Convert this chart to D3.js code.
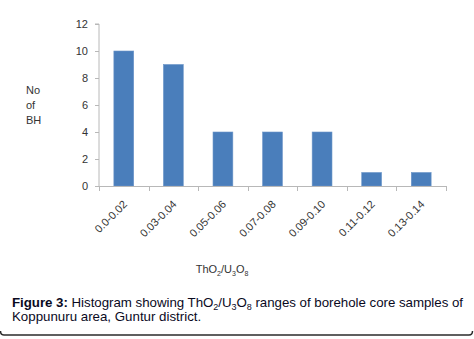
<!DOCTYPE html>
<html>
<head>
<meta charset="utf-8">
<script src="https://cdn.jsdelivr.net/npm/d3@7"></script>
<style>
  body { margin: 0; background: #fff; }
  svg { display: block; }
</style>
</head>
<body>
<div id="chart"></div>
<script>
const ranges = ["0.0-0.02", "0.03-0.04", "0.05-0.06", "0.07-0.08", "0.09-0.10", "0.11-0.12", "0.13-0.14"];
const counts = [10, 9, 4, 4, 4, 1, 1];
const yTicks = [0, 2, 4, 6, 8, 10, 12];

const width = 474, height = 339;
const plot = { left: 99, right: 446, top: 24, bottom: 186 };

const svg = d3.select("#chart").append("svg")
    .attr("width", width)
    .attr("height", height);

const x = d3.scaleBand()
    .domain(ranges)
    .range([plot.left, plot.right])
    .paddingInner(0.6)
    .paddingOuter(0.3);

const y = d3.scaleLinear()
    .domain([0, 12])
    .range([plot.bottom, plot.top]);

// bars
svg.append("g")
  .selectAll("rect")
  .data(counts)
  .enter()
  .append("rect")
    .attr("x", (d, i) => x(ranges[i]))
    .attr("y", d => y(d))
    .attr("width", x.bandwidth())
    .attr("height", d => y(0) - y(d))
    .attr("fill", "#4a7ebb")
    .attr("stroke", "#6b95c8")
    .attr("stroke-width", 0.6);

// y axis
const yAxis = svg.append("g")
    .attr("transform", `translate(${plot.left},0)`)
    .call(d3.axisLeft(y).tickValues(yTicks).tickSize(4).tickPadding(7).tickFormat(d3.format("d")));
yAxis.select(".domain").attr("stroke", "#b8b8b8").attr("d", `M-4,${plot.top}H0V${plot.bottom}`);
yAxis.selectAll(".tick line").attr("stroke", "#b8b8b8");
yAxis.selectAll("text")
    .attr("fill", "#333")
    .style("font-family", "'Liberation Sans', Arial, sans-serif")
    .style("font-size", "11px");

// x axis line + boundary ticks
const step = x.step();
const boundaries = d3.range(ranges.length + 1).map(i => plot.left + i * step);
svg.append("line")
    .attr("x1", plot.left).attr("x2", plot.right)
    .attr("y1", plot.bottom + 0.5).attr("y2", plot.bottom + 0.5)
    .attr("stroke", "#b8b8b8");
svg.append("g").selectAll("line")
  .data(boundaries)
  .enter()
  .append("line")
    .attr("x1", d => Math.round(d) + 0.5).attr("x2", d => Math.round(d) + 0.5)
    .attr("y1", plot.bottom).attr("y2", plot.bottom + 5)
    .attr("stroke", "#b8b8b8");

// rotated category labels
svg.append("g").selectAll("text")
  .data(ranges)
  .enter()
  .append("text")
    .attr("transform", d => `translate(${x(d) + x.bandwidth() / 2 + 4},${plot.bottom + 19}) rotate(-45)`)
    .attr("text-anchor", "end")
    .attr("fill", "#333")
    .style("font-family", "'Liberation Sans', Arial, sans-serif")
    .style("font-size", "11px")
    .text(d => d);

// y title
const yTitle = svg.append("text")
    .attr("fill", "#333")
    .style("font-family", "'Liberation Sans', Arial, sans-serif")
    .style("font-size", "11px");
["No", "of", "BH"].forEach((t, i) => {
  yTitle.append("tspan").attr("x", 26).attr("y", 94 + i * 15).text(t);
});

// x title with subscripts
const xTitle = svg.append("text")
    .attr("x", 222).attr("y", 273)
    .attr("text-anchor", "middle")
    .attr("fill", "#333")
    .style("font-family", "'Liberation Sans', Arial, sans-serif")
    .style("font-size", "11px");
xTitle.append("tspan").text("ThO");
xTitle.append("tspan").attr("dy", 3).style("font-size", "7px").text("2");
xTitle.append("tspan").attr("dy", -3).text("/U");
xTitle.append("tspan").attr("dy", 3).style("font-size", "7px").text("3");
xTitle.append("tspan").attr("dy", -3).text("O");
xTitle.append("tspan").attr("dy", 3).style("font-size", "7px").text("8");

// caption
const capFont = "'Liberation Sans', Arial, sans-serif";
const cap1 = svg.append("text")
    .attr("x", 12).attr("y", 307)
    .attr("fill", "#0a0a1e")
    .style("font-family", capFont)
    .style("font-size", "13.3px");
cap1.append("tspan").style("font-weight", "bold").text("Figure 3:");
cap1.append("tspan").text(" Histogram showing ThO");
cap1.append("tspan").attr("dy", 3).style("font-size", "9px").text("2");
cap1.append("tspan").attr("dy", -3).text("/U");
cap1.append("tspan").attr("dy", 3).style("font-size", "9px").text("3");
cap1.append("tspan").attr("dy", -3).text("O");
cap1.append("tspan").attr("dy", 3).style("font-size", "9px").text("8");
cap1.append("tspan").attr("dy", -3).text(" ranges of borehole core samples of");
cap1.attr("textLength", 451).attr("lengthAdjust", "spacing");

svg.append("text")
    .attr("x", 12).attr("y", 321)
    .attr("fill", "#0a0a1e")
    .style("font-family", capFont)
    .style("font-size", "13.3px")
    .text("Koppunuru area, Guntur district.");

// frame bottom edge with small rounded corners
svg.append("path")
    .attr("d", "M0.5,331 Q0.5,335 4,335 H469 Q472.5,335 472.5,331")
    .attr("fill", "none")
    .attr("stroke", "#2b2b2b")
    .attr("stroke-width", 1.5);
</script>
</body>
</html>
